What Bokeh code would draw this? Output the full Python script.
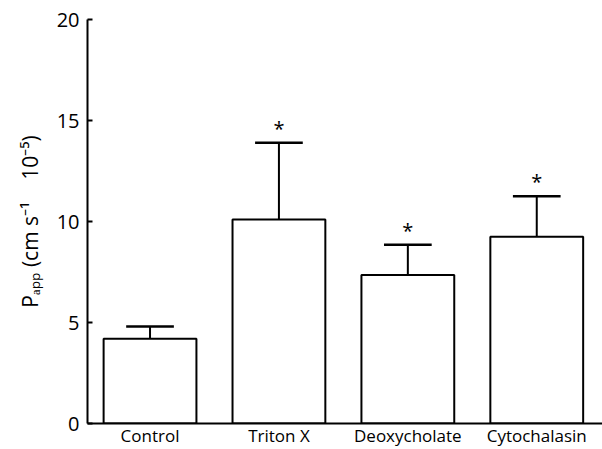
from bokeh.plotting import figure
from bokeh.models import Range1d, FixedTicker, ColumnDataSource
from bokeh.core.properties import value
from bokeh.embed import file_html
from bokeh.resources import INLINE

categories = ["Control", "Triton X", "Deoxycholate", "Cytochalasin"]
means = [4.2, 10.1, 7.35, 9.25]
errors = [0.6, 3.8, 1.5, 2.0]
significant = [False, True, True, True]
y_ticks = [0, 5, 10, 15, 20]

FONT = "Open Sans"
xs = list(range(len(categories)))
tops = [m + e for m, e in zip(means, errors)]
cap_half = 0.185
bar_w = 0.72

p = figure(width=602, height=449, output_backend="svg", toolbar_location=None,
           x_range=Range1d(-0.485, 3.51), y_range=Range1d(0, 20))
p.min_border_left = 87
p.min_border_right = 0
p.min_border_top = 19
p.min_border_bottom = 24
p.outline_line_color = None
p.background_fill_color = "white"
p.border_fill_color = "white"
p.xgrid.visible = False
p.ygrid.visible = False

src = ColumnDataSource(dict(x=xs, top=means, err=tops,
                            l=[x - cap_half for x in xs], r=[x + cap_half for x in xs]))

p.segment(x0="x", y0="top", x1="x", y1="err", source=src, line_color="black", line_width=2)
p.segment(x0="l", y0="err", x1="r", y1="err", source=src, line_color="black", line_width=2.5)
p.vbar(x="x", top="top", bottom=0, width=bar_w, source=src,
       fill_color="white", line_color="black", line_width=2)

sx = [x for x, s in zip(xs, significant) if s]
sy = [t for t, s in zip(tops, significant) if s]
p.text(x=sx, y=sy, text=["*"] * len(sx), text_align="center", text_baseline="bottom",
       text_font=value(FONT), text_font_size="20px", text_color="black", y_offset=-1)

# axes
p.xaxis.ticker = FixedTicker(ticks=xs)
p.xaxis.major_label_overrides = {i: c for i, c in zip(xs, categories)}
p.xaxis.major_tick_line_color = None
p.xaxis.major_tick_in = 0
p.xaxis.major_tick_out = 0
p.xaxis.minor_tick_line_color = None
p.xaxis.axis_line_width = 2
p.xaxis.axis_line_color = "black"
p.xaxis.major_label_text_font = FONT
p.xaxis.major_label_text_font_size = "17px"
p.xaxis.major_label_text_color = "black"
p.xaxis.major_label_standoff = 0

p.yaxis.ticker = FixedTicker(ticks=y_ticks)
p.yaxis.minor_tick_line_color = None
p.yaxis.major_tick_in = 5
p.yaxis.major_tick_out = 0
p.yaxis.major_tick_line_width = 2
p.yaxis.axis_line_width = 2
p.yaxis.axis_line_color = "black"
p.yaxis.major_label_text_font = FONT
p.yaxis.major_label_text_font_size = "20px"
p.yaxis.major_label_text_color = "black"
p.yaxis.major_label_standoff = 8
p.yaxis.axis_label = "P\u2090\u209a\u209a (cm s\u207b\u00b9\u00a0\u00a0\u00a0 10\u207b\u2075)"
p.yaxis.axis_label_text_font = FONT
p.yaxis.axis_label_text_font_style = "normal"
p.yaxis.axis_label_text_font_size = "21px"
p.yaxis.axis_label_text_color = "black"
p.yaxis.axis_label_standoff = 10

open("out.html", "w").write(file_html(p, INLINE))
